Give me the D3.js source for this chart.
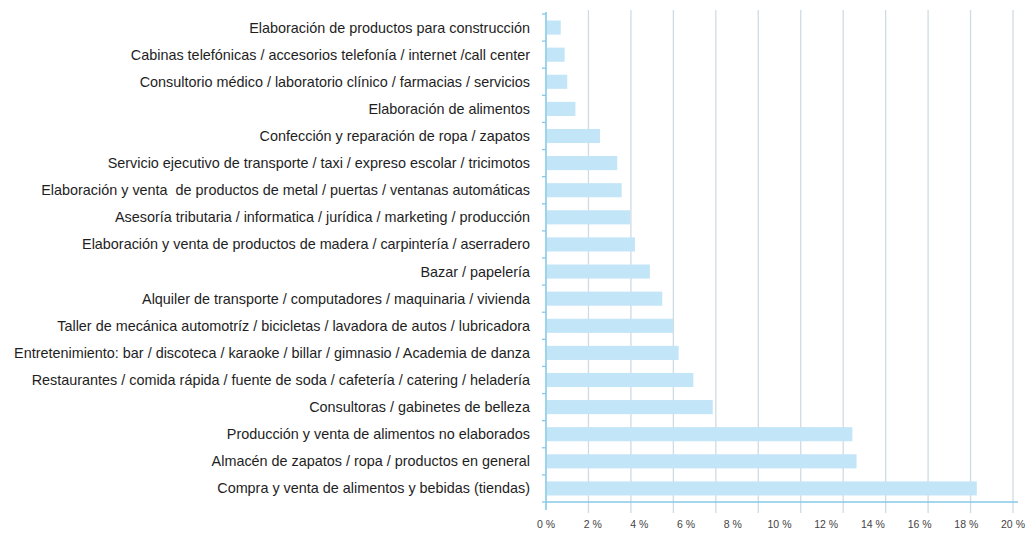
<!DOCTYPE html>
<html>
<head>
<meta charset="utf-8">
<script src="https://cdn.jsdelivr.net/npm/d3@7"></script>
<style>
  html, body { margin: 0; padding: 0; background: #fff; }
  svg { display: block; }
  .cat text { white-space: pre; }
</style>
</head>
<body>
<svg id="chart" width="1029" height="534"></svg>
<script>
// Business activities (top to bottom) and their share of establishments, in %
const categories = [
  "Elaboración de productos para construcción",
  "Cabinas telefónicas / accesorios telefonía / internet /call center",
  "Consultorio médico / laboratorio clínico / farmacias / servicios",
  "Elaboración de alimentos",
  "Confección y reparación de ropa / zapatos",
  "Servicio ejecutivo de transporte / taxi / expreso escolar / tricimotos",
  "Elaboración y venta  de productos de metal / puertas / ventanas automáticas",
  "Asesoría tributaria / informatica / jurídica / marketing / producción",
  "Elaboración y venta de productos de madera / carpintería / aserradero",
  "Bazar / papelería",
  "Alquiler de transporte / computadores / maquinaria / vivienda",
  "Taller de mecánica automotríz / bicicletas / lavadora de autos / lubricadora",
  "Entretenimiento: bar / discoteca / karaoke / billar / gimnasio / Academia de danza",
  "Restaurantes / comida rápida / fuente de soda / cafetería / catering / heladería",
  "Consultoras / gabinetes de belleza",
  "Producción y venta de alimentos no elaborados",
  "Almacén de zapatos / ropa / productos en general",
  "Compra y venta de alimentos y bebidas (tiendas)"
];
const shares = [0.63, 0.8, 0.91, 1.26, 2.31, 3.05, 3.24, 3.6, 3.81, 4.45, 4.98, 5.45, 5.68, 6.31, 7.14, 13.12, 13.3, 18.45];
const tickValues = [0, 2, 4, 6, 8, 10, 12, 14, 16, 18, 20];
const gridDivisions = 11;

const svg = d3.select("#chart");
const plot = { left: 546, right: 1013, top: 14, bottom: 502 };

const x = d3.scaleLinear().domain([0, 20]).range([plot.left, plot.right]);
const grid = d3.scaleLinear().domain([0, gridDivisions]).range([plot.left, plot.right]);
const y = d3.scaleBand().domain(categories).range([plot.top, plot.bottom]).paddingInner(0.48).paddingOuter(0.24);
const band = d3.scaleLinear().domain([0, categories.length]).range([plot.top, plot.bottom]);

const axisColor = "#86c8e8";
const gridColor = "#cfdbe4";

// vertical grid lines (also serve as tick marks under the x axis)
svg.append("g").selectAll("line")
  .data(d3.range(1, gridDivisions + 1))
  .join("line")
  .attr("x1", d => grid(d)).attr("x2", d => grid(d))
  .attr("y1", 10).attr("y2", plot.bottom + 11)
  .attr("stroke", gridColor).attr("stroke-width", 1.3);

// bars
svg.append("g").selectAll("rect")
  .data(categories)
  .join("rect")
  .attr("x", x(0) + 1)
  .attr("y", d => y(d))
  .attr("width", (d, i) => x(shares[i]) - x(0) - 1)
  .attr("height", y.bandwidth())
  .attr("fill", "#c3e5f8");

// x axis line
svg.append("line")
  .attr("x1", x(0)).attr("x2", plot.right + 5)
  .attr("y1", plot.bottom).attr("y2", plot.bottom)
  .attr("stroke", axisColor).attr("stroke-width", 1.6);

// y axis line with band separators
svg.append("line")
  .attr("x1", x(0)).attr("x2", x(0))
  .attr("y1", plot.top - 2).attr("y2", plot.bottom + 8)
  .attr("stroke", axisColor).attr("stroke-width", 1.6);
svg.append("g").selectAll("line")
  .data(d3.range(0, categories.length + 1))
  .join("line")
  .attr("x1", x(0) - 4).attr("x2", x(0))
  .attr("y1", d => band(d)).attr("y2", d => band(d))
  .attr("stroke", axisColor).attr("stroke-width", 1.3);

// x tick labels
svg.append("g").selectAll("text")
  .data(tickValues)
  .join("text")
  .attr("x", d => x(d))
  .attr("y", 528)
  .attr("text-anchor", "middle")
  .attr("font-family", "Liberation Sans, Arial, sans-serif")
  .attr("font-size", 10.5)
  .attr("fill", "#444")
  .text(d => d + " %");

// category labels
svg.append("g").attr("class", "cat").selectAll("text")
  .data(categories)
  .join("text")
  .attr("x", 530)
  .attr("y", d => y(d) + y.bandwidth() / 2)
  .attr("dy", "0.35em")
  .attr("text-anchor", "end")
  .attr("font-family", "Liberation Sans, Arial, sans-serif")
  .attr("font-size", 14.4)
  .attr("fill", "#1e1e1e")
  .text(d => d);
</script>
</body>
</html>
